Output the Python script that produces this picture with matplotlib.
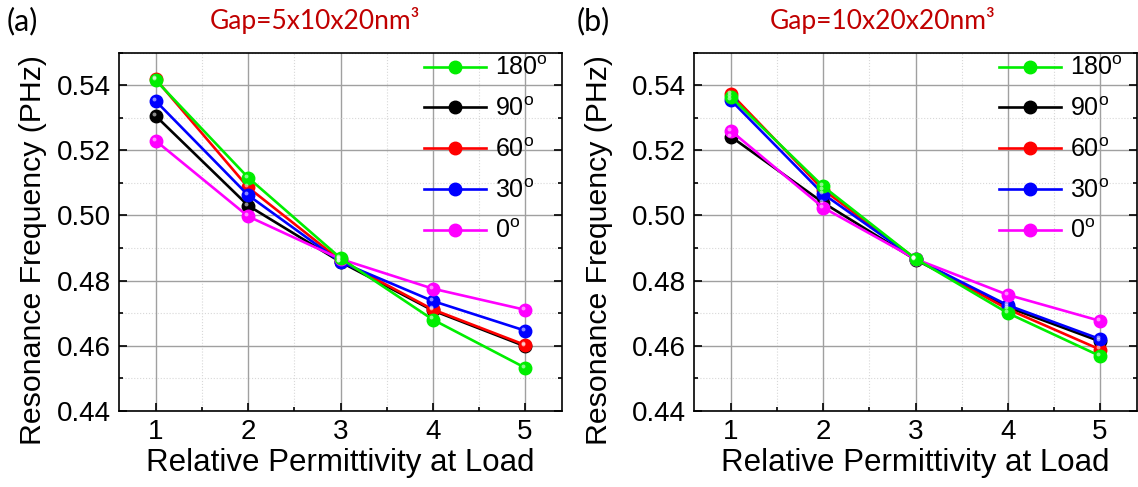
import matplotlib
matplotlib.use("Agg")
import matplotlib.pyplot as plt
import matplotlib.transforms as mtransforms
import numpy as np
from matplotlib.ticker import MultipleLocator

plt.rcParams['font.family'] = ['Liberation Sans', 'DejaVu Sans']
plt.rcParams['mathtext.fontset'] = 'custom'
plt.rcParams['mathtext.rm'] = 'Liberation Sans'
plt.rcParams['mathtext.it'] = 'Liberation Sans'

# dane
permittivity = [1, 2, 3, 4, 5]
angles = ['180', '90', '60', '30', '0']
colors = {'180': '#00ee00', '90': '#000000', '60': '#ff0000', '30': '#0000ff', '0': '#ff00ff'}

gap_a = {
    '180': [0.5415, 0.5116, 0.4869, 0.4680, 0.4532],
    '90':  [0.5305, 0.5030, 0.4857, 0.4708, 0.4598],
    '60':  [0.5418, 0.5086, 0.4862, 0.4711, 0.4602],
    '30':  [0.5351, 0.5062, 0.4857, 0.4737, 0.4646],
    '0':   [0.5229, 0.4997, 0.4866, 0.4775, 0.4710],
}
gap_b = {
    '180': [0.5364, 0.5089, 0.4867, 0.4700, 0.4568],
    '90':  [0.5242, 0.5039, 0.4864, 0.4718, 0.4613],
    '60':  [0.5374, 0.5079, 0.4867, 0.4712, 0.4588],
    '30':  [0.5354, 0.5066, 0.4866, 0.4724, 0.4620],
    '0':   [0.5260, 0.5024, 0.4866, 0.4756, 0.4676],
}
titles = ['Gap=5x10x20nm³', 'Gap=10x20x20nm³']
panel_tags = ['(a)', '(b)']

fig = plt.figure(figsize=(11.38, 4.87), dpi=100)
W, H = 1138, 487
boxes = [(119, 562), (694, 1137)]
top_px, bot_px = 52.7, 410.7
draw_order = ['90', '60', '30', '0', '180']
ylabel_x = [-0.163, -0.182]

for i, data in enumerate([gap_a, gap_b]):
    x0, x1 = boxes[i]
    ax = fig.add_axes([x0 / W, 1 - bot_px / H, (x1 - x0) / W, (bot_px - top_px) / H])
    shine = mtransforms.offset_copy(ax.transData, fig=fig, x=-1.5, y=1.5, units='points')
    handles = {}
    for k in draw_order:
        h, = ax.plot(permittivity, data[k], '-o', color=colors[k], lw=1.9, ms=9,
                     mec=colors[k], mfc=colors[k], label=k + r'$^\mathrm{o}$', zorder=3)
        # odblask na kulkach
        ax.plot(permittivity, data[k], 'o', ms=2.8, color='white', alpha=0.55, mew=0,
                zorder=4, transform=shine)
        handles[k] = h
    ax.set_xlim(0.6, 5.4)
    ax.set_ylim(0.44, 0.55)
    ax.xaxis.set_major_locator(MultipleLocator(1))
    ax.xaxis.set_minor_locator(MultipleLocator(0.5))
    ax.yaxis.set_minor_locator(MultipleLocator(0.01))
    ax.set_yticks([0.44, 0.46, 0.48, 0.50, 0.52, 0.54])
    ax.set_yticklabels(['0.44', '0.46', '0.48', '0.50', '0.52', '0.54'])
    ax.grid(which='major', color='#a0a0a0', lw=1.0, ls='-')
    ax.grid(which='minor', color='#d8d8d8', lw=0.8, ls=':')
    ax.set_axisbelow(True)
    ax.tick_params(which='both', direction='in', top=False, right=True, labelsize=20,
                   pad=6, width=1.2)
    ax.tick_params(which='major', length=6)
    ax.tick_params(which='minor', length=3)
    for s in ax.spines.values():
        s.set_linewidth(1.2)
    ax.set_xlabel('Relative Permittivity at Load', fontsize=22.5, labelpad=2)
    ax.set_ylabel('Resonance Frequency (PHz)', fontsize=21.8)
    ax.yaxis.set_label_coords(ylabel_x[i], 0.45)
    ax.legend([handles[k] for k in angles], [handles[k].get_label() for k in angles],
              loc='upper left', bbox_to_anchor=(0.688, 0.99), frameon=False,
              fontsize=18, handlelength=2.5, handletextpad=0.35, labelspacing=0.67,
              borderpad=0, borderaxespad=0)
    cx = 315 if i == 0 else 883
    fig.text(cx / W, 1 - 21 / H, titles[i], color='#c00000', fontsize=19,
             family='Lato', ha='center', va='center')
    tx = 7 if i == 0 else 577
    fig.text(tx / W, 1 - 21 / H, panel_tags[i], color='black', fontsize=22,
             family='Lato', ha='left', va='center')

fig.savefig('out.png', dpi=100)
